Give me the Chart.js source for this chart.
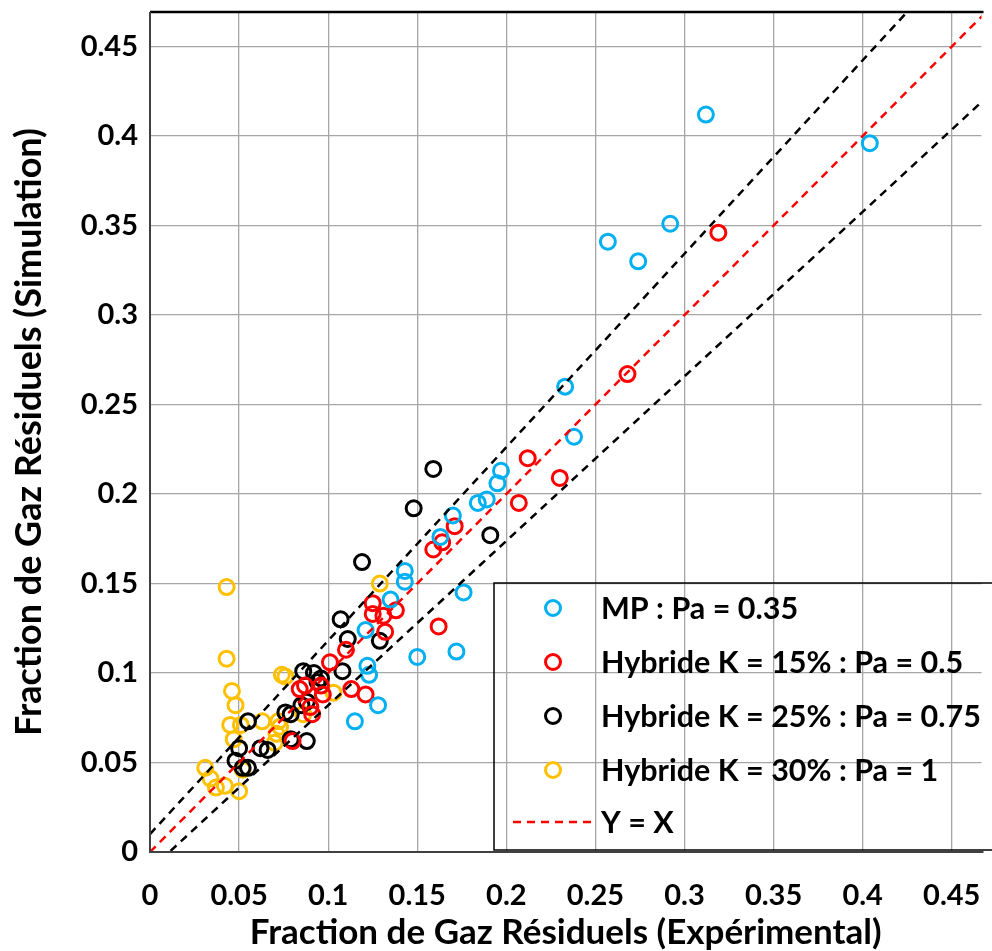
<!DOCTYPE html>
<html>
<head>
<meta charset="utf-8">
<script src="https://cdn.jsdelivr.net/npm/chart.js@4"></script>
<style>
  html, body { margin: 0; padding: 0; background: #fff; }
  #wrap { width: 992px; height: 951px; }
</style>
</head>
<body>
<div id="wrap"><canvas id="residuelsChart" width="992" height="951"></canvas></div>
<script>
// ==================== DATA ====================

const mpX = [0.312, 0.404, 0.257, 0.274, 0.292, 0.233, 0.238, 0.197, 0.195, 0.189, 0.184, 0.170,
             0.163, 0.143, 0.143, 0.176, 0.135, 0.121, 0.150, 0.172, 0.122, 0.123, 0.128, 0.115];
const mpY = [0.412, 0.396, 0.341, 0.330, 0.351, 0.260, 0.232, 0.213, 0.206, 0.197, 0.195, 0.188,
             0.176, 0.157, 0.151, 0.145, 0.141, 0.124, 0.109, 0.112, 0.104, 0.099, 0.082, 0.073];

const h15X = [0.319, 0.268, 0.212, 0.230, 0.207, 0.171, 0.164, 0.159, 0.125, 0.125, 0.131, 0.138, 0.132,
              0.162, 0.110, 0.101, 0.113, 0.121, 0.084, 0.087, 0.096, 0.091, 0.080, 0.097, 0.090];
const h15Y = [0.346, 0.267, 0.220, 0.209, 0.195, 0.182, 0.173, 0.169, 0.139, 0.133, 0.132, 0.135, 0.123,
              0.126, 0.113, 0.106, 0.091, 0.088, 0.091, 0.093, 0.093, 0.077, 0.062, 0.088, 0.081];

const h25X = [0.159, 0.148, 0.119, 0.191, 0.107, 0.111, 0.129, 0.108, 0.086, 0.092, 0.094, 0.088, 0.085,
              0.076, 0.079, 0.088, 0.079, 0.062, 0.066, 0.055, 0.050, 0.048, 0.055, 0.052, 0.096];
const h25Y = [0.214, 0.192, 0.162, 0.177, 0.130, 0.119, 0.118, 0.101, 0.101, 0.100, 0.095, 0.084, 0.082,
              0.078, 0.077, 0.062, 0.063, 0.058, 0.057, 0.073, 0.058, 0.051, 0.047, 0.047, 0.097];

const h30X = [0.043, 0.043, 0.046, 0.048, 0.045, 0.051, 0.047, 0.031, 0.034, 0.037, 0.042, 0.050,
              0.052, 0.063, 0.072, 0.073, 0.070, 0.074, 0.076, 0.086, 0.103, 0.129, 0.071];
const h30Y = [0.148, 0.108, 0.090, 0.082, 0.071, 0.071, 0.063, 0.047, 0.041, 0.036, 0.037, 0.034,
              0.046, 0.073, 0.073, 0.070, 0.061, 0.099, 0.098, 0.077, 0.089, 0.150, 0.066];

// droites de référence (extrémités)
const refX = [0, 0.47];
const identY = [0, 0.47];
const upperY = [0.01, 0.518];
const lowerY = [-0.01, 0.422];

const seriesLabels = [
    'MP : Pa = 0.35',
    'Hybride K = 15% : Pa = 0.5',
    'Hybride K = 25% : Pa = 0.75',
    'Hybride K = 30% : Pa = 1',
    'Y = X'
];
const seriesColors = ['#00B0F0', '#FF0000', '#000000', '#FFC000'];

const FONT = 'Lato, "Open Sans", sans-serif';

function toPoints(xs, ys) {
    return xs.map((x, i) => ({ x: x, y: ys[i] }));
}

// ==================== PLUGINS ====================

// cadre du graphique (haut, gauche, bas)
const framePlugin = {
    id: 'frame',
    afterDraw(chart) {
        const { ctx, chartArea: a } = chart;
        ctx.save();
        ctx.strokeStyle = '#000';
        ctx.lineWidth = 2.5;
        ctx.beginPath();
        ctx.moveTo(a.left, a.top);
        ctx.lineTo(a.right + 2, a.top);
        ctx.stroke();
        ctx.strokeStyle = '#404040';
        ctx.lineWidth = 2;
        ctx.beginPath();
        ctx.moveTo(a.left, a.top);
        ctx.lineTo(a.left, a.bottom);
        ctx.lineTo(a.right + 2, a.bottom);
        ctx.stroke();
        ctx.restore();
    }
};

// légende dessinée dans la zone du graphique
const legendBoxPlugin = {
    id: 'legendBox',
    afterDraw(chart) {
        const ctx = chart.ctx;
        const left = 494, top = 583, bottom = 850, right = 1000;
        ctx.save();
        ctx.strokeStyle = '#000';
        ctx.lineWidth = 1.5;
        ctx.strokeRect(left, top, right - left, bottom - top);

        const rowY = [608, 662, 716, 770, 822];
        ctx.font = 'bold 30.5px ' + FONT;
        ctx.textBaseline = 'middle';
        ctx.fillStyle = '#000';
        seriesLabels.forEach((label, i) => {
            if (i < 4) {
                ctx.strokeStyle = seriesColors[i];
                ctx.lineWidth = 3;
                ctx.beginPath();
                ctx.arc(553, rowY[i], 7.5, 0, Math.PI * 2);
                ctx.stroke();
            } else {
                ctx.strokeStyle = '#FF0000';
                ctx.lineWidth = 2.5;
                ctx.setLineDash([8, 6]);
                ctx.beginPath();
                ctx.moveTo(513, rowY[i]);
                ctx.lineTo(596, rowY[i]);
                ctx.stroke();
                ctx.setLineDash([]);
            }
            ctx.fillText(label, 601, rowY[i] + 1);
        });
        ctx.restore();
    }
};

// ==================== CHART ====================

function pointSet(label, xs, ys, color) {
    return {
        label: label,
        data: toPoints(xs, ys),
        showLine: false,
        pointRadius: 7.5,
        pointHoverRadius: 7.5,
        pointBorderWidth: 3,
        pointBorderColor: color,
        pointBackgroundColor: 'rgba(0,0,0,0)',
        borderColor: color,
        backgroundColor: 'rgba(0,0,0,0)'
    };
}

function lineSet(label, ys, color) {
    return {
        label: label,
        data: toPoints(refX, ys),
        showLine: true,
        pointRadius: 0,
        borderColor: color,
        borderWidth: 2.5,
        borderDash: [8, 6],
        fill: false
    };
}

const ctx = document.getElementById('residuelsChart');

new Chart(ctx, {
    type: 'scatter',
    data: {
        datasets: [
            lineSet('Y = X', identY, '#FF0000'),
            lineSet('+', upperY, '#000000'),
            lineSet('-', lowerY, '#000000'),
            pointSet(seriesLabels[0], mpX, mpY, seriesColors[0]),
            pointSet(seriesLabels[1], h15X, h15Y, seriesColors[1]),
            pointSet(seriesLabels[2], h25X, h25Y, seriesColors[2]),
            pointSet(seriesLabels[3], h30X, h30Y, seriesColors[3])
        ]
    },
    options: {
        responsive: false,
        animation: false,
        layout: { padding: { top: 12, right: 0, left: 0, bottom: 0 } },
        plugins: {
            legend: { display: false },
            tooltip: { enabled: false }
        },
        scales: {
            x: {
                type: 'linear',
                min: 0,
                max: 0.4667,
                afterFit: (scale) => {
                    scale.height = 99;
                    scale.paddingLeft = 0;
                    scale.paddingRight = 0;
                },
                ticks: {
                    stepSize: 0.05,
                    includeBounds: false,
                    color: '#000',
                    padding: 26,
                    maxRotation: 0,
                    autoSkip: false,
                    font: { family: FONT, size: 29, weight: 'bold' },
                    callback: (v) => +v.toFixed(2)
                },
                grid: { color: '#A6A6A6', lineWidth: 1.3, drawTicks: false },
                border: { display: false },
                title: {
                    display: true,
                    text: 'Fraction de Gaz Résiduels (Expérimental)',
                    color: '#000',
                    font: { family: FONT, size: 35, weight: 'bold' },
                    padding: { top: 0, bottom: -3 }
                }
            },
            y: {
                type: 'linear',
                min: 0,
                max: 0.4693,
                afterFit: (scale) => {
                    scale.width = 150;
                    scale.paddingTop = 0;
                    scale.paddingBottom = 0;
                },
                ticks: {
                    stepSize: 0.05,
                    includeBounds: false,
                    color: '#000',
                    padding: 12,
                    autoSkip: false,
                    font: { family: FONT, size: 29, weight: 'bold' },
                    callback: (v) => +v.toFixed(2)
                },
                grid: { color: '#A6A6A6', lineWidth: 1.3, drawTicks: false },
                border: { display: false },
                title: {
                    display: true,
                    text: 'Fraction de Gaz Résiduels (Simulation)',
                    color: '#000',
                    font: { family: FONT, size: 36, weight: 'bold' },
                    padding: { top: 8, bottom: 0 }
                }
            }
        }
    },
    plugins: [framePlugin, legendBoxPlugin]
});
</script>
</body>
</html>
